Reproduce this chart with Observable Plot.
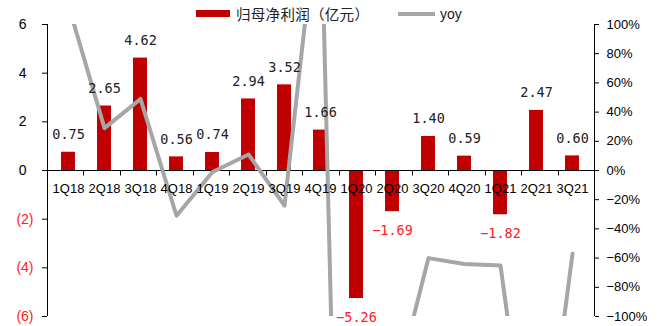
<!DOCTYPE html>
<html>
<head>
<meta charset="utf-8">
<script src="https://cdn.jsdelivr.net/npm/d3@7"></script>
<script src="https://cdn.jsdelivr.net/npm/@observablehq/plot@0.6"></script>
<style>
  html, body { margin: 0; padding: 0; background: #fff; }
  #wrap { position: relative; width: 662px; height: 326px; overflow: hidden; }
  #chart svg { display: block; }
  .legend { position: absolute; top: 0; left: 0; width: 662px; height: 28px; pointer-events: none; }
  .sw-bar { position: absolute; left: 196px; top: 10px; width: 34px; height: 7px; background: #C00000; }
  .lg-text1 { position: absolute; left: 236px; top: 3px; height: 22px; line-height: 22px; font-family: "Noto Sans CJK SC", sans-serif; font-size: 14.5px; color: #222; letter-spacing: 0.3px; }
  .sw-line { position: absolute; left: 398px; top: 12px; width: 37px; height: 4px; background: #A6A6A6; }
  .lg-text2 { position: absolute; left: 440px; top: 3px; height: 22px; line-height: 22px; font-family: "Liberation Sans", Arial, sans-serif; font-size: 14px; color: #222; }
</style>
</head>
<body>
<div id="wrap">
  <div id="chart"></div>
  <div class="legend">
    <div class="sw-bar"></div>
    <div class="lg-text1">归母净利润（亿元）</div>
    <div class="sw-line"></div>
    <div class="lg-text2">yoy</div>
  </div>
</div>
<script>
// ---- data ----
const quarters = ["1Q18","2Q18","3Q18","4Q18","1Q19","2Q19","3Q19","4Q19","1Q20","2Q20","3Q20","4Q20","1Q21","2Q21","3Q21"];
const profit = [0.75, 2.65, 4.62, 0.56, 0.74, 2.94, 3.52, 1.66, -5.26, -1.69, 1.40, 0.59, -1.82, 2.47, 0.60];
const yoyPct = [113, 29, 49, -31, -1, 11, -24, 196, -811, -157, -60, -64, -65, -246, -57];
const leftTicksPos = [0, 2, 4, 6];
const leftTicksNeg = [-2, -4, -6];
const rightTicks = [-100, -80, -60, -40, -20, 0, 20, 40, 60, 80, 100];

// right axis (%) shares the left axis frame: ±100% ↔ ±6
const leftMax = 6, rightMax = 100;
const toLeft = v => v * leftMax / rightMax;

const rows = quarters.map((q, i) => ({q, v: profit[i], yoy: yoyPct[i]}));
const fmtVal = v => (v < 0 ? "\u2212" : "") + Math.abs(v).toFixed(2);
const fmtPct = t => {
  const p = Math.round(t * rightMax / leftMax);
  return (p < 0 ? "\u2212" : "") + Math.abs(p) + "%";
};

function frameLines(index, scales, values, dims) {
  const {width, height, marginLeft, marginRight, marginTop, marginBottom} = dims;
  const x0 = marginLeft, x1 = width - marginRight;
  const yz = Math.round(typeof scales.y === "function" ? scales.y(0) : (marginTop + (height - marginTop - marginBottom) / 2)) + 0.5;
  const g = d3.create("svg:g").attr("stroke", "#000").attr("stroke-width", 1).attr("fill", "none");
  const xl = Math.round(x0) + 0.5, xr = Math.round(x1) + 0.5;
  g.append("line").attr("x1", xl).attr("x2", xl).attr("y1", marginTop).attr("y2", height - marginBottom);
  g.append("line").attr("x1", xr).attr("x2", xr).attr("y1", marginTop).attr("y2", height - marginBottom);
  g.append("line").attr("x1", x0).attr("x2", x1).attr("y1", yz).attr("y2", yz);
  const n = quarters.length, step = (x1 - x0) / n;
  for (let k = 0; k <= n; ++k) {
    const x = Math.round(x0 + k * step) + 0.5;
    g.append("line").attr("x1", x).attr("x2", x).attr("y1", yz).attr("y2", yz + 5);
  }
  return g.node();
}

const chart = Plot.plot({
  width: 662,
  height: 326,
  marginLeft: 47,
  marginRight: 68,
  marginTop: 24,
  marginBottom: 10,
  x: {domain: quarters, paddingInner: 0.6, paddingOuter: 0.3, axis: null},
  y: {domain: [-leftMax, leftMax], axis: null, label: null},
  style: {fontFamily: "'Liberation Sans', Arial, sans-serif", fontSize: "13px", color: "#000", background: "transparent"},
  marks: [
    Plot.barY(rows, {x: "q", y: "v", fill: "#C00000"}),
    frameLines,
    Plot.line(rows, {x: "q", y: d => toLeft(d.yoy), stroke: "#A6A6A6", strokeWidth: 4, strokeLinejoin: "round", clip: true}),
    Plot.text(quarters, {x: d => d, y: 0, dy: 18, text: d => d, fontSize: 13, fill: "#000"}),
    Plot.text(rows.filter(d => d.v >= 0), {x: "q", y: "v", text: d => fmtVal(d.v), dy: -17.5, fontFamily: "'DejaVu Sans Mono', monospace", fontSize: 13.5, fill: "#222"}),
    Plot.text(rows.filter(d => d.v < 0), {x: "q", y: "v", text: d => fmtVal(d.v), dy: 19, fontFamily: "'DejaVu Sans Mono', monospace", fontSize: 13.5, fill: "#FF2020"}),
    Plot.axisY(leftTicksPos, {anchor: "left", label: null, tickSize: 5, tickPadding: 16, fontSize: 14, fill: "#000", stroke: "#000"}),
    Plot.axisY(leftTicksNeg, {anchor: "left", label: null, tickSize: 5, tickPadding: 9, fontSize: 14, tickFormat: d => `(${-d})`, fill: "#FF2020", stroke: "#000"}),
    Plot.axisY(rightTicks.map(toLeft), {anchor: "right", label: null, tickSize: 4, tickPadding: 8, fontSize: 13, tickFormat: fmtPct, fill: "#000", stroke: "#000"})
  ]
});
document.getElementById("chart").appendChild(chart);
</script>
</body>
</html>
